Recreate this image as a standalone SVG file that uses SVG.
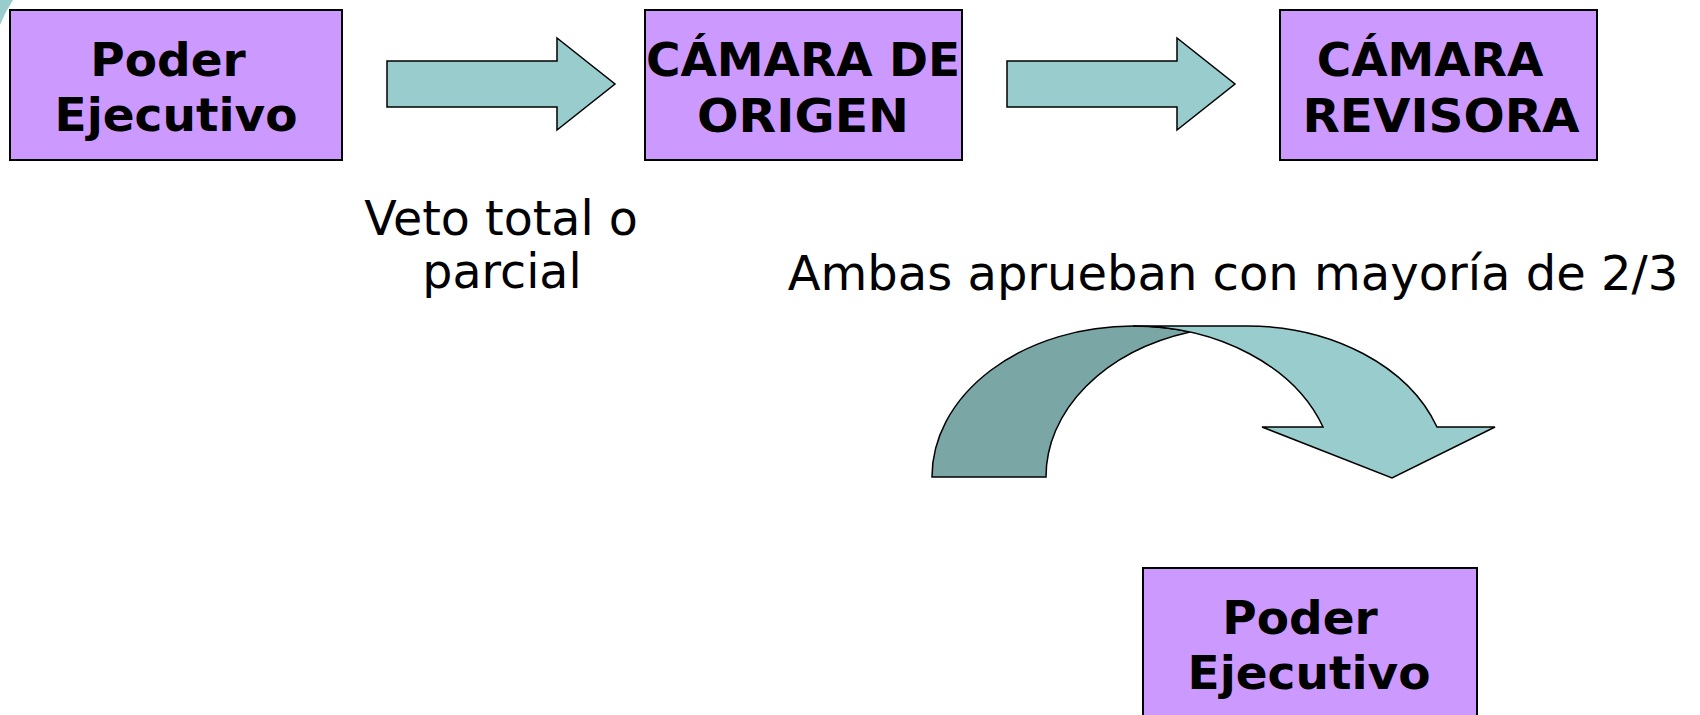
<svg xmlns="http://www.w3.org/2000/svg" width="1700" height="715" viewBox="0 0 1700 715">
<style>
.box{fill:#CC99FF;stroke:#000;stroke-width:2}
.bt{font-family:"DejaVu Sans","Verdana",sans-serif;font-weight:bold;font-size:47px;fill:#000;text-anchor:middle}
.lbl{font-family:"DejaVu Sans","Verdana",sans-serif;font-size:47.5px;fill:#000;text-anchor:middle}
.arr{fill:#99CCCC;stroke:#000;stroke-width:1.5;stroke-linejoin:miter}
.arrd{fill:#7BA6A6;stroke:#000;stroke-width:1.5}
</style>
<rect width="1700" height="715" fill="#fff"/>
<path d="M0,0 L13,0 Q5,12 0,25 Z" fill="#99CCCC"/>
<g id="connectors">
<path class="arr" d="M387,61 L557,61 L557,38 L615,84 L557,130 L557,107 L387,107 Z"/>
<path class="arr" d="M1007,61 L1177,61 L1177,38 L1235,84 L1177,130 L1177,107 L1007,107 Z"/>
<g id="curved-arrow">
<path class="arrd" d="M932,477 A201,151 0 0 1 1133,326 A201,151 0 0 1 1190,332 A201,151 0 0 0 1046,477 Z"/>
<path class="arr" d="M1133,326 L1247,326 A201,151 0 0 1 1437,427 L1495,427 L1392,478 L1262,427 L1323,427 A201,151 0 0 0 1133,326 Z"/>
</g>
</g>
<g id="node-poder-ejecutivo-1">
<rect class="box" x="10" y="10" width="332" height="150"/>
<text class="bt" x="168" y="76">Poder</text>
<text class="bt" x="176" y="131">Ejecutivo</text>
</g>
<g id="node-camara-origen">
<rect class="box" x="645" y="10" width="317" height="150"/>
<text class="bt" x="803" y="76">CÁMARA DE</text>
<text class="bt" x="803" y="132" textLength="212" lengthAdjust="spacingAndGlyphs">ORIGEN</text>
</g>
<g id="node-camara-revisora">
<rect class="box" x="1280" y="10" width="317" height="150"/>
<text class="bt" x="1430" y="76">CÁMARA</text>
<text class="bt" x="1441" y="132" textLength="277" lengthAdjust="spacingAndGlyphs">REVISORA</text>
</g>
<g id="node-poder-ejecutivo-2">
<rect class="box" x="1143" y="568" width="334" height="151"/>
<text class="bt" x="1300" y="634">Poder</text>
<text class="bt" x="1309" y="689">Ejecutivo</text>
</g>
<g id="labels">
<text class="lbl" x="501" y="235">Veto total o</text>
<text class="lbl" x="502" y="288">parcial</text>
<text class="lbl" x="1233" y="290" style="font-size:48px">Ambas aprueban con mayoría de 2/3</text>
</g>
</svg>
